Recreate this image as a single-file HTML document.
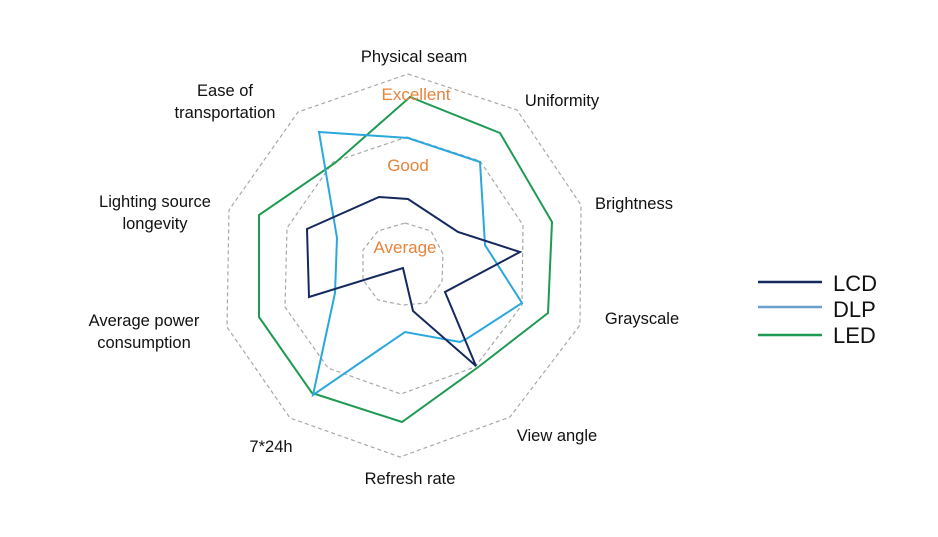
<!DOCTYPE html>
<html><head><meta charset="utf-8"><style>body{margin:0;background:#fff}</style></head><body>
<svg width="938" height="532" xmlns="http://www.w3.org/2000/svg" font-family="Liberation Sans, sans-serif">
<rect width="938" height="532" fill="#fff"/>
<g fill="none" stroke="#a8a8a8" stroke-width="1.2" stroke-dasharray="4,3">
<polygon points="408,74 517,110 581,205 580,325 510,417 400,457 290,418 227,327 229,210 298,112"/>
<polygon points="407,137 480,161 523,225 522,305 475,367 401,394 328,368 285,307 287,228 333,162"/>
<polygon points="405,223 431,231 443,254 442,282 426,303 403,305 378,300 363,280 363,250 378,231"/>
</g>
<polygon fill="none" stroke="#1e9a52" stroke-width="2" points="410,97 500,133 552,222 548,313 477,368 402,422 312,393 259,317 259,215 335,163"/>
<polygon fill="none" stroke="#2aa8dc" stroke-width="2" points="319,132 408,138 480,162 485,245 522,303 468,338 460,342 405,332 313,395 335,293 337,238"/>
<polygon fill="none" stroke="#15295e" stroke-width="2" points="379,197 408,199 458,232 520,252 445,292 476,366 413,311 403,268 309,297 307,229"/>
<g fill="#e8833a" font-size="17" text-anchor="middle">
<text x="416" y="100">Excellent</text>
<text x="408" y="171">Good</text>
<text x="405" y="253">Average</text>
</g>
<g fill="#111" font-size="16.5" text-anchor="middle">
<text x="414" y="62">Physical seam</text>
<text x="562" y="106">Uniformity</text>
<text x="634" y="209">Brightness</text>
<text x="642" y="324">Grayscale</text>
<text x="557" y="441">View angle</text>
<text x="410" y="484">Refresh rate</text>
<text x="271" y="452">7*24h</text>
<text x="144" y="326">Average power</text>
<text x="144" y="348">consumption</text>
<text x="155" y="207">Lighting source</text>
<text x="155" y="229">longevity</text>
<text x="225" y="96">Ease of</text>
<text x="225" y="118">transportation</text>
</g>
<line x1="758" y1="282" x2="822" y2="282" stroke="#15295e" stroke-width="2.5"/>
<line x1="758" y1="307" x2="822" y2="307" stroke="#6a9fd0" stroke-width="2.5"/>
<line x1="758" y1="335" x2="822" y2="335" stroke="#1e9a52" stroke-width="2.5"/>
<g fill="#111" font-size="22">
<text x="833" y="291">LCD</text>
<text x="833" y="317">DLP</text>
<text x="833" y="343">LED</text>
</g>
</svg>
</body></html>
